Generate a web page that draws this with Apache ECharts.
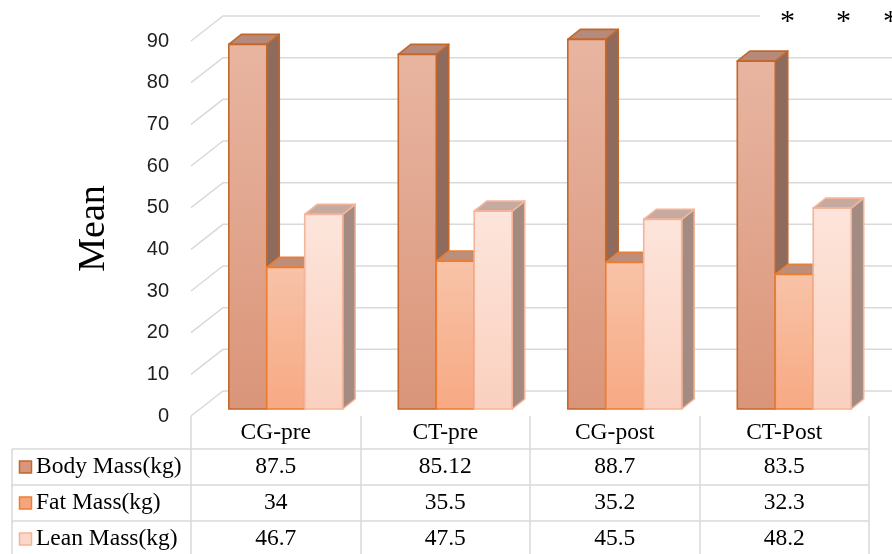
<!DOCTYPE html>
<html>
<head>
<meta charset="utf-8">
<script src="https://cdn.jsdelivr.net/npm/echarts@6/dist/echarts.min.js"></script>
<style>
html,body{margin:0;padding:0;background:#fff;}
#chart{width:892px;height:554px;}
</style>
</head>
<body>
<div id="chart"></div>
<script>
// ---- data ----
const categories = ['CG-pre', 'CT-pre', 'CG-post', 'CT-Post'];
const seriesNames = ['Body Mass(kg)', 'Fat Mass(kg)', 'Lean Mass(kg)'];
const bodyMass = [87.5, 85.12, 88.7, 83.5];
const fatMass = [34, 35.5, 35.2, 32.3];
const leanMass = [46.7, 47.5, 45.5, 48.2];
const yTicks = [0, 10, 20, 30, 40, 50, 60, 70, 80, 90];
const significanceMarks = ['*', '*', '*'];

// ---- styling / geometry ----
const WALL_DX = 32, WALL_DY = -25;      // depth of the back wall
const BAR_SHIFT_X = 10, BAR_SHIFT_Y = -7; // bars' front plane
const BAR_DX = 12.5, BAR_DY = -10;       // bar depth
const HEADER_H = 33, ROW_H = 36, TABLE_LEFT = 12;
const GRID_COLOR = '#d9d9d9';
const TABLE_FONT = '23.5px "Liberation Serif"';

const styles = [
  { front: ['#e8b5a1', '#da9579'], side: '#8e6b5c', top: '#b58a7a', stroke: '#c4672a', key: '#d9967c' },
  { front: ['#f8c3a8', '#f7a983'], side: '#a07662', top: '#bd8e79', stroke: '#ed7d31', key: '#f4a57d' },
  { front: ['#fde5db', '#fad0bf'], side: '#a38b82', top: '#c6aa9f', stroke: '#f4b49a', key: '#fbd7c8' }
];
const rows = [bodyMass, fatMass, leanMass];

const chart = echarts.init(document.getElementById('chart'), null, { renderer: 'canvas' });

function gridRender(params, api) {
  const v = api.value(0);
  const y = api.coord([0, v])[1];
  const cs = params.coordSys;
  return {
    type: 'polyline',
    shape: { points: [[cs.x, y], [cs.x + WALL_DX, y + WALL_DY], [cs.x + cs.width + WALL_DX + 40, y + WALL_DY]] },
    style: { stroke: GRID_COLOR, lineWidth: 1.5, fill: null },
    silent: true
  };
}

function barRender(s) {
  const st = styles[s];
  return function (params, api) {
    const i = api.value(0), v = api.value(1);
    const base = api.coord([i, 0]);
    const top = api.coord([i, v]);
    const bw = api.size([1, 0])[0] * 0.224;
    const x0 = base[0] - 1.5 * bw + s * bw + BAR_SHIFT_X;
    const yb = base[1] + BAR_SHIFT_Y;
    const yt = top[1] + BAR_SHIFT_Y;
    const lw = 1.6;
    return {
      type: 'group',
      children: [
        { type: 'polygon', shape: { points: [[x0 + bw, yt], [x0 + bw + BAR_DX, yt + BAR_DY], [x0 + bw + BAR_DX, yb + BAR_DY], [x0 + bw, yb]] },
          style: { fill: st.side, stroke: st.stroke, lineWidth: lw, lineJoin: 'round' } },
        { type: 'polygon', shape: { points: [[x0, yt], [x0 + BAR_DX, yt + BAR_DY], [x0 + bw + BAR_DX, yt + BAR_DY], [x0 + bw, yt]] },
          style: { fill: st.top, stroke: st.stroke, lineWidth: lw, lineJoin: 'round' } },
        { type: 'rect', shape: { x: x0, y: yt, width: bw, height: yb - yt },
          style: { fill: new echarts.graphic.LinearGradient(0, 0, 0, 1, [{ offset: 0, color: st.front[0] }, { offset: 1, color: st.front[1] }]),
                   stroke: st.stroke, lineWidth: lw } }
      ]
    };
  };
}

const tableData = [];
rows.forEach((arr, r) => arr.forEach((v, i) => tableData.push([i, r, v])));

function tableRender(params, api) {
  const i = api.value(0), r = api.value(1), v = api.value(2);
  const p = api.coord([i, 0]);
  const cs = params.coordSys;
  const rowTop = p[1] + HEADER_H + r * ROW_H;
  const cy = rowTop + ROW_H / 2;
  const children = [
    { type: 'text', x: p[0], y: cy,
      style: { text: String(v), fill: '#000', font: TABLE_FONT, align: 'center', verticalAlign: 'middle' } }
  ];
  if (i === 0) {
    const st = styles[r];
    children.push(
      { type: 'line', shape: { x1: TABLE_LEFT, y1: rowTop, x2: cs.x + cs.width, y2: rowTop }, style: { stroke: GRID_COLOR, lineWidth: 1.5 } },
      { type: 'line', shape: { x1: TABLE_LEFT, y1: rowTop, x2: TABLE_LEFT, y2: rowTop + ROW_H + 2 }, style: { stroke: GRID_COLOR, lineWidth: 1.5 } },
      { type: 'rect', shape: { x: 19.5, y: cy - 6, width: 12, height: 12 }, style: { fill: st.key, stroke: st.stroke, lineWidth: 1.5 } },
      { type: 'text', x: 36, y: cy, style: { text: seriesNames[r], fill: '#000', font: TABLE_FONT, align: 'left', verticalAlign: 'middle' } }
    );
  }
  return { type: 'group', children: children };
}

const option = {
  animation: false,
  backgroundColor: '#fff',
  grid: { left: 191, right: 23, top: 41, bottom: 138, containLabel: false },
  xAxis: {
    type: 'category',
    data: categories,
    boundaryGap: true,
    axisLine: { show: false },
    axisTick: { show: true, length: 140, lineStyle: { color: GRID_COLOR, width: 1.5 } },
    axisLabel: { fontFamily: 'Liberation Serif', fontSize: 23.5, color: '#000', margin: 5 },
    splitLine: { show: false }
  },
  yAxis: {
    type: 'value',
    min: 0, max: 90, interval: 10,
    name: 'Mean',
    nameLocation: 'middle',
    nameGap: 78,
    nameTextStyle: { fontFamily: 'Liberation Serif', fontSize: 38, color: '#000' },
    axisLine: { show: false },
    axisTick: { show: false },
    splitLine: { show: false },
    axisLabel: { fontFamily: 'Liberation Sans', fontSize: 20, color: '#1f1f1f', margin: 22 }
  },
  series: [
    { type: 'custom', name: 'grid', renderItem: gridRender, data: yTicks.map(v => [v]), encode: { y: 0 }, z: 1, silent: true },
    { type: 'custom', name: seriesNames[0], renderItem: barRender(0), data: bodyMass.map((v, i) => [i, v]), encode: { x: 0, y: 1 }, z: 2 },
    { type: 'custom', name: seriesNames[1], renderItem: barRender(1), data: fatMass.map((v, i) => [i, v]), encode: { x: 0, y: 1 }, z: 2 },
    { type: 'custom', name: seriesNames[2], renderItem: barRender(2), data: leanMass.map((v, i) => [i, v]), encode: { x: 0, y: 1 }, z: 2 },
    { type: 'custom', name: 'table', renderItem: tableRender, data: tableData, encode: { x: 0 }, z: 3, clip: false }
  ],
  graphic: [
    { type: 'rect', left: 760, top: 4, shape: { width: 140, height: 24 }, style: { fill: '#fff' }, z: 10 },
    { type: 'text', left: 780, top: 7, style: { text: significanceMarks[0], font: '30px "Liberation Serif"', fill: '#000' }, z: 11 },
    { type: 'text', left: 836, top: 7, style: { text: significanceMarks[1], font: '30px "Liberation Serif"', fill: '#000' }, z: 11 },
    { type: 'text', left: 883, top: 7, style: { text: significanceMarks[2], font: '30px "Liberation Serif"', fill: '#000' }, z: 11 }
  ]
};
chart.setOption(option);
</script>
</body>
</html>
